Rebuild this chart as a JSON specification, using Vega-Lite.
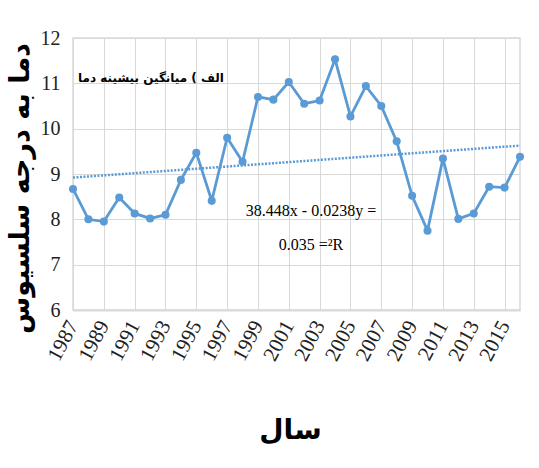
{
  "$schema": "https://vega.github.io/schema/vega-lite/v6.json",
  "autosize": "none",
  "width": 447,
  "height": 272,
  "padding": {"left": 73, "top": 38, "right": 19, "bottom": 158},
  "background": "white",
  "config": {
    "view": {"stroke": "#d9d9d9", "strokeWidth": 1.5},
    "axis": {"gridColor": "#d9d9d9", "gridWidth": 1, "ticks": false, "domain": false}
  },
  "data": {
    "values": [
      {"year": 1987, "temp": 8.67}, {"year": 1988, "temp": 8.0}, {"year": 1989, "temp": 7.95},
      {"year": 1990, "temp": 8.48}, {"year": 1991, "temp": 8.13}, {"year": 1992, "temp": 8.02},
      {"year": 1993, "temp": 8.1}, {"year": 1994, "temp": 8.87}, {"year": 1995, "temp": 9.47},
      {"year": 1996, "temp": 8.41}, {"year": 1997, "temp": 9.8}, {"year": 1998, "temp": 9.27},
      {"year": 1999, "temp": 10.7}, {"year": 2000, "temp": 10.64}, {"year": 2001, "temp": 11.03},
      {"year": 2002, "temp": 10.55}, {"year": 2003, "temp": 10.62}, {"year": 2004, "temp": 11.53},
      {"year": 2005, "temp": 10.27}, {"year": 2006, "temp": 10.94}, {"year": 2007, "temp": 10.5},
      {"year": 2008, "temp": 9.72}, {"year": 2009, "temp": 8.52}, {"year": 2010, "temp": 7.75},
      {"year": 2011, "temp": 9.34}, {"year": 2012, "temp": 8.01}, {"year": 2013, "temp": 8.13},
      {"year": 2014, "temp": 8.72}, {"year": 2015, "temp": 8.7}, {"year": 2016, "temp": 9.38}
    ]
  },
  "encoding": {
    "x": {
      "field": "year", "type": "quantitative",
      "scale": {"domain": [1987, 2016], "nice": false, "zero": false},
      "axis": {
        "values": [1987, 1989, 1991, 1993, 1995, 1997, 1999, 2001, 2003, 2005, 2007, 2009, 2011, 2013, 2015],
        "format": "d",
        "labelAngle": -62, "labelAlign": "right", "labelBaseline": "middle",
        "labelFont": "Liberation Serif", "labelFontSize": 21, "labelColor": "#222",
        "labelPadding": 12, "labelOverlap": false,
        "domain": true, "domainColor": "#d9d9d9", "domainWidth": 2,
        "title": "سال", "titleFont": "DejaVu Sans", "titleFontSize": 28, "titleFontWeight": "bold",
        "titleColor": "#000", "titleX": 217, "titleY": 120, "titleBaseline": "middle"
      }
    },
    "y": {
      "field": "temp", "type": "quantitative",
      "scale": {"domain": [6, 12], "nice": false, "zero": false},
      "axis": {
        "values": [6, 7, 8, 9, 10, 11, 12],
        "labelFont": "Liberation Serif", "labelFontSize": 20, "labelColor": "#222",
        "labelPadding": 13,
        "title": "دما به درجه سلسیوس", "titleFont": "DejaVu Sans", "titleFontSize": 27,
        "titleFontWeight": "bold", "titleColor": "#000",
        "titleAngle": -90, "titleX": -53, "titleY": 150, "titleAlign": "center", "titleBaseline": "middle"
      }
    }
  },
  "layer": [
    {
      "mark": {"type": "line", "color": "#5B9BD5", "strokeWidth": 2.8, "point": {"filled": true, "size": 65, "color": "#5B9BD5"}}
    },
    {
      "transform": [{"regression": "temp", "on": "year"}],
      "mark": {"type": "line", "color": "#5B9BD5", "strokeWidth": 2.5, "strokeDash": [2, 1.5]}
    },
    {
      "transform": [{"filter": "datum.year == 1987"}],
      "mark": {"type": "text", "text": "الف ) میانگین بیشینه دما", "font": "DejaVu Sans", "fontSize": 12, "fontWeight": "bold", "color": "#000", "align": "center", "baseline": "middle"},
      "encoding": {"x": {"datum": 1992.06}, "y": {"datum": 11.12}}
    },
    {
      "transform": [{"filter": "datum.year == 1987"}],
      "mark": {"type": "text", "text": "38.448x - 0.0238y =", "font": "Liberation Serif", "fontSize": 16, "color": "#000", "align": "center", "baseline": "middle"},
      "encoding": {"x": {"datum": 2002.44}, "y": {"datum": 8.18}}
    },
    {
      "transform": [{"filter": "datum.year == 1987"}],
      "mark": {"type": "text", "text": "0.035 =²R", "font": "Liberation Serif", "fontSize": 16, "color": "#000", "align": "center", "baseline": "middle"},
      "encoding": {"x": {"datum": 2002.44}, "y": {"datum": 7.43}}
    }
  ]
}
